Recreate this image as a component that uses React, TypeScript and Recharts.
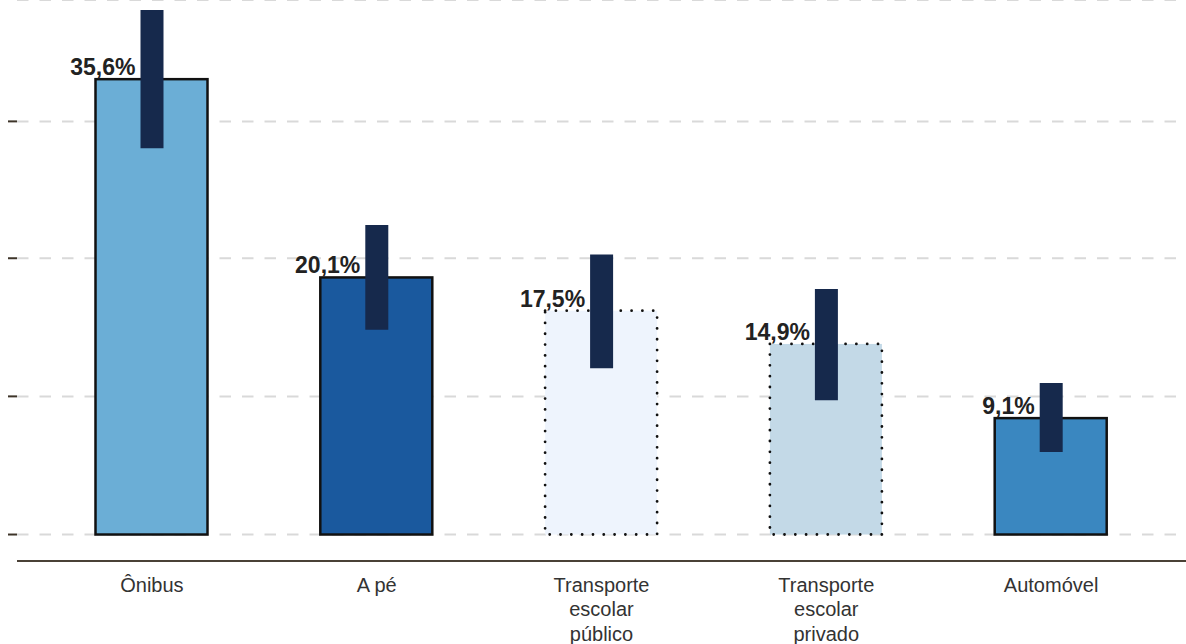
import React from 'react';
import { BarChart, Bar, XAxis, YAxis, CartesianGrid, LabelList } from 'recharts';

const categories = ['Ônibus', 'A pé', 'Transporte\nescolar\npúblico', 'Transporte\nescolar\nprivado', 'Automóvel'];
const shares = [35.6, 20.1, 17.5, 14.9, 9.1];
const ciLow = [30.2, 16.0, 13.0, 10.5, 6.45];
const ciHigh = [41.0, 24.2, 21.9, 19.2, 11.85];
const yTicks = [0, 10.8, 21.6, 32.3];

const barFills = ['#6baed6', '#1a599e', '#eef4fd', '#c3d9e7', '#3a87c0'];
const dotted = [false, false, true, true, false];

const data = categories.map((name, i) => ({
  name,
  share: shares[i],
  low: ciLow[i],
  high: ciHigh[i],
}));

const FONT = '"Liberation Sans", Arial, Helvetica, sans-serif';

const MainBarShape = (props: any) => {
  const { x, y, width, height, index } = props;
  const isDotted = dotted[index];
  return (
    <rect
      x={x}
      y={y}
      width={width}
      height={height}
      fill={barFills[index]}
      stroke="#111111"
      strokeWidth={isDotted ? 2.8 : 2.5}
      strokeDasharray={isDotted ? '0.01 10.8' : undefined}
      strokeLinecap={isDotted ? 'round' : 'butt'}
    />
  );
};

const ShareLabel = (props: any) => {
  const { x, y, width, value } = props;
  const text = Number(value).toFixed(1).replace('.', ',') + '%';
  return (
    <text
      x={x + width / 2 - 16}
      y={y - 4}
      textAnchor="end"
      fontFamily={FONT}
      fontWeight="bold"
      fontSize={23}
      fill="#222222"
    >
      {text}
    </text>
  );
};

const CategoryTick = (props: any) => {
  const { x, y, payload } = props;
  const lines = String(payload.value).split('\n');
  return (
    <text x={x} y={y} textAnchor="middle" fontFamily={FONT} fontSize={20} fill="#333333">
      {lines.map((line, i) => (
        <tspan key={i} x={x} y={y + 30.5 + i * 24.5}>
          {line}
        </tspan>
      ))}
    </text>
  );
};

export default function App() {
  return (
    <div style={{ position: 'absolute', left: 0, top: 0, width: 1186, height: 644, background: '#fff' }}>
      <BarChart width={1186} height={644} data={data} margin={{ top: 0, right: 0, left: 0, bottom: 0 }}>
        <CartesianGrid vertical={false} stroke="#d9d9d9" strokeWidth={2} strokeDasharray="11.5 11" />
        <XAxis
          dataKey="name"
          padding={{ left: 22.5, right: 22.5 }}
          axisLine={{ stroke: '#4a4136', strokeWidth: 2 }}
          tickLine={false}
          tickSize={0}
          tickMargin={0}
          height={83}
          interval={0}
          tick={<CategoryTick />}
        />
        <XAxis dataKey="name" xAxisId="ci" hide padding={{ left: 22.5, right: 22.5 }} />
        <YAxis
          type="number"
          domain={[-2.07, 41.79]}
          allowDataOverflow
          ticks={yTicks}
          interval={0}
          width={17}
          tickSize={9}
          axisLine={false}
          tickLine={{ stroke: '#3d3429', strokeWidth: 2 }}
          tickFormatter={() => ''}
        />
        <Bar dataKey="share" barSize={112} shape={<MainBarShape />} isAnimationActive={false}>
          <LabelList dataKey="share" content={<ShareLabel />} />
        </Bar>
        <Bar
          dataKey={(d: any) => [d.low, d.high]}
          xAxisId="ci"
          barSize={23}
          fill="#16294c"
          isAnimationActive={false}
        />
      </BarChart>
    </div>
  );
}
